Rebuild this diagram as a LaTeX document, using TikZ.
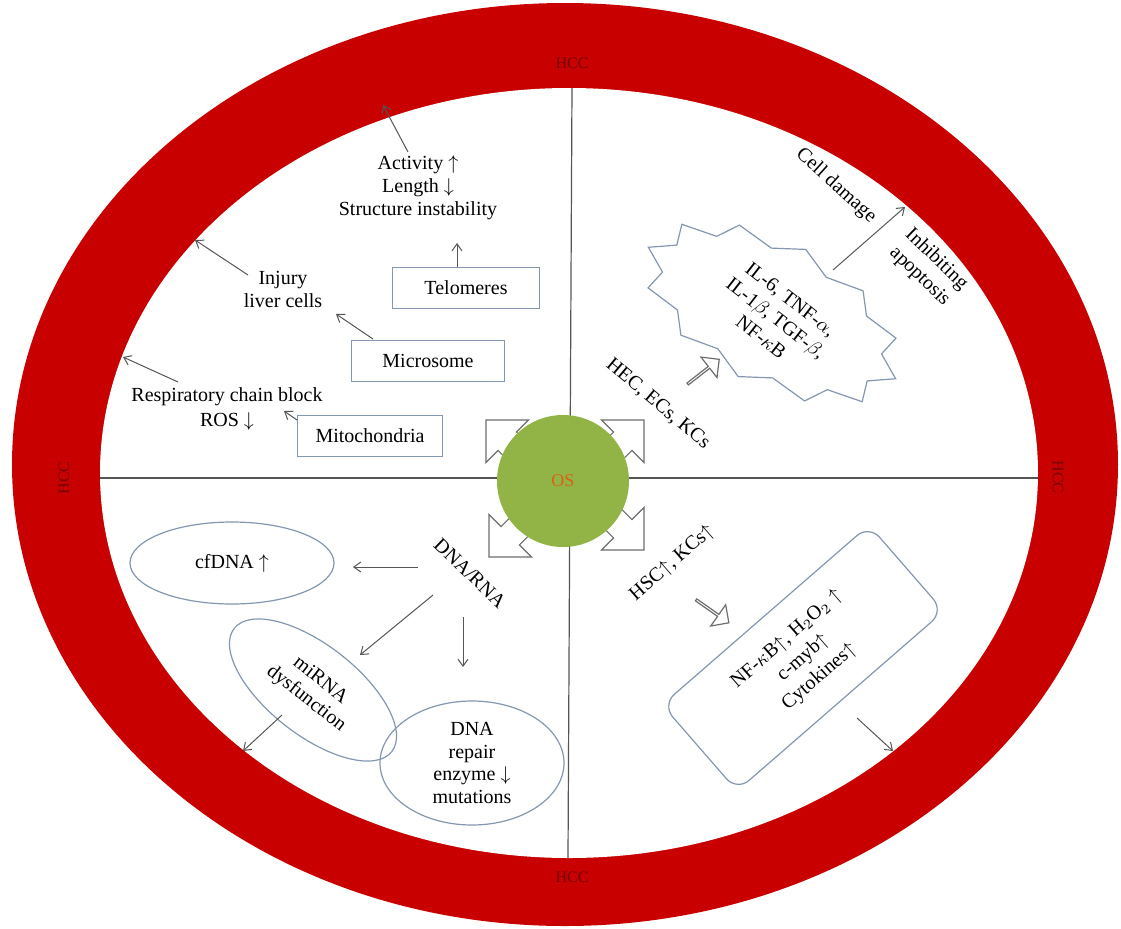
\documentclass[tikz,border=0pt]{standalone}
\usepackage{fontspec}
\setmainfont{Liberation Serif}
\usetikzlibrary{arrows.meta,shapes.geometric,shapes.arrows}
\definecolor{ringred}{RGB}{200,0,0}
\definecolor{hccred}{RGB}{115,0,0}
\definecolor{osgreen}{RGB}{146,180,70}
\definecolor{osorange}{RGB}{215,100,20}
\definecolor{boxline}{RGB}{132,151,176}
\definecolor{lineg}{RGB}{85,85,85}
\definecolor{arrg}{RGB}{110,110,110}
\begin{document}
\begin{tikzpicture}[x=0.5pt,y=-0.5pt,
  every node/.style={font=\fontsize{10}{11.5}\selectfont, inner sep=1pt, align=center},
  conn/.style={draw=lineg, line width=0.5pt, -{Straight Barb[length=3.5pt,width=5pt]}},
  rectbox/.style={draw=boxline, line width=0.6pt, minimum height=20.5pt, inner sep=0pt},
  ovalbox/.style={ellipse, draw=boxline, line width=0.6pt, inner sep=-6pt},
  hollow/.style={draw=arrg, fill=white, line width=0.6pt},
  blockarr/.style={single arrow, draw=arrg, fill=white, line width=0.6pt, minimum height=20pt, minimum width=13pt, single arrow head extend=3pt, inner sep=0pt},
  hcc/.style={text=hccred, font=\fontsize{8}{9}\selectfont},
  divider/.style={draw=lineg, line width=0.6pt}
]
\useasboundingbox (0,0) rectangle (1121,928);
\fill[white] (0,0) rectangle (1121,928);

% ring
\fill[ringred] (565,464.5) ellipse [x radius=276.5pt, y radius=230.75pt];
\fill[white] (569,473) ellipse [x radius=234.5pt, y radius=192.5pt];

\node[hcc] (hcct) at (572,63) {HCC};
\node[hcc, rotate=90] (hccl) at (64,478) {HCC};
\node[hcc, rotate=-90] (hccr) at (1058,477) {HCC};
\node[hcc] (hccb) at (572,877) {HCC};

% dividers
\coordinate (vt) at (572,88);
\coordinate (vb) at (568,858);
\coordinate (hl) at (100,478);
\coordinate (hr) at (1038,478);
\draw[divider] (vt) -- (vb);
\draw[divider] (hl) -- (hr);

% hollow arrows around OS
\foreach \px/\py/\a in {486/420/135, 644/420/45, 489/557/225, 644/550/315}
  \draw[hollow, shift={(\px,\py)}, rotate=\a] (0,0) -- (-30,30) -- (-30,13) -- (-75,13) -- (-75,-13) -- (-30,-13) -- (-30,-30) -- cycle;

\node[circle, fill=osgreen, minimum size=66pt, inner sep=0pt, text=osorange, font=\fontsize{9}{10}\selectfont] (os) at (563,481) {OS};

% ---------- top-left quadrant
\node (act) at (418,188) {Activity $\uparrow$\\Length $\downarrow$\\Structure instability};
\node[rectbox, minimum width=73.5pt] (telo) at (466,288) {Telomeres};
\node (inj) at (283,289) {Injury\\liver cells};
\node[rectbox, minimum width=76.5pt] (micro) at (428,361) {Microsome};
\node[font=\fontsize{10}{12.5}\selectfont] (resp) at (227,409) {Respiratory chain block\\ROS $\downarrow$};
\node[rectbox, minimum width=72.5pt] (mito) at (370,436) {Mitochondria};

\coordinate (a1s) at (408,152); \coordinate (a1e) at (383,105);
\coordinate (a2e) at (457,243);
\coordinate (a3s) at (248,275); \coordinate (a3e) at (195,240);
\coordinate (a4s) at (373,339); \coordinate (a4e) at (336,314);
\coordinate (a5s) at (178,382); \coordinate (a5e) at (123,357);
\coordinate (a6s) at (297,420); \coordinate (a6e) at (284,411);
\draw[conn] (a1s) -- (a1e);
\draw[conn] (telo.north -| a2e) -- (a2e);
\draw[conn] (a3s) -- (a3e);
\draw[conn] (a4s) -- (a4e);
\draw[conn] (a5s) -- (a5e);
\draw[conn] (a6s) -- (a6e);

% ---------- top-right quadrant
\begin{scope}[shift={(772,313)}, rotate=-28]
  \draw[draw=boxline, fill=white, line width=0.6pt] (0:140 and 72)
    \foreach \i in {0,...,11} { -- ({\i*30+15}:120 and 59) -- ({\i*30+30}:140 and 72) } -- cycle;
\end{scope}
\node[rotate=-38, font=\fontsize{10}{12}\selectfont] (cyt) at (776,318) {IL-6, TNF-$\alpha$,\\IL-1$\beta$, TGF-$\beta$,\\NF-$\kappa$B};
\node[rotate=-42] (dam) at (836,186) {Cell damage};
\node[rotate=-44, font=\fontsize{10}{12}\selectfont] (inh) at (928,268) {Inhibiting\\apoptosis};
\coordinate (b1s) at (833,270); \coordinate (b1e) at (905,207);
\draw[conn] (b1s) -- (b1e);
\node[rotate=-40] (hec) at (658,404) {HEC, ECs, KCs};
\node[blockarr, rotate=38] (hecarr) at (703,372) {};

% ---------- bottom-left quadrant
\node[ovalbox, minimum width=102pt, minimum height=41pt] (cf) at (232,563) {cfDNA $\uparrow$};
\node[rotate=-44] (dna) at (470,573) {DNA/RNA};
\node[ovalbox, rotate=-38, minimum width=100pt, minimum height=45pt] (mir) at (313,690) {miRNA\\dysfunction};
\node[ovalbox, minimum width=92pt, minimum height=62pt, font=\fontsize{10}{11.2}\selectfont] (rep) at (472,763) {DNA\\repair\\enzyme $\downarrow$\\mutations};
\coordinate (c1s) at (418,567); \coordinate (c1e) at (353,567);
\coordinate (c2s) at (433,595); \coordinate (c2e) at (360,655);
\coordinate (c3s) at (463,617); \coordinate (c3e) at (463,667);
\coordinate (c4s) at (282,715); \coordinate (c4e) at (243,751);
\draw[conn] (c1s) -- (c1e);
\draw[conn] (c2s) -- (c2e);
\draw[conn] (c3s) -- (c3e);
\draw[conn] (c4s) -- (c4e);

% ---------- bottom-right quadrant
\node[rotate=41] (hsc) at (672,563) {HSC$\uparrow$, KCs$\uparrow$};
\node[blockarr, rotate=-35] (hscarr) at (712,611) {};
\node[draw=boxline, line width=0.6pt, rounded corners=8pt, minimum width=137pt, minimum height=57pt, rotate=41, font=\fontsize{10}{12.5}\selectfont] (nfb) at (803,658) {NF-$\kappa$B$\uparrow$, H$_2$O$_2\uparrow$\\c-myb$\uparrow$\\Cytokines$\uparrow$};
\coordinate (d1s) at (857,718); \coordinate (d1e) at (893,751);
\draw[conn] (d1s) -- (d1e);
\end{tikzpicture}
\end{document}
